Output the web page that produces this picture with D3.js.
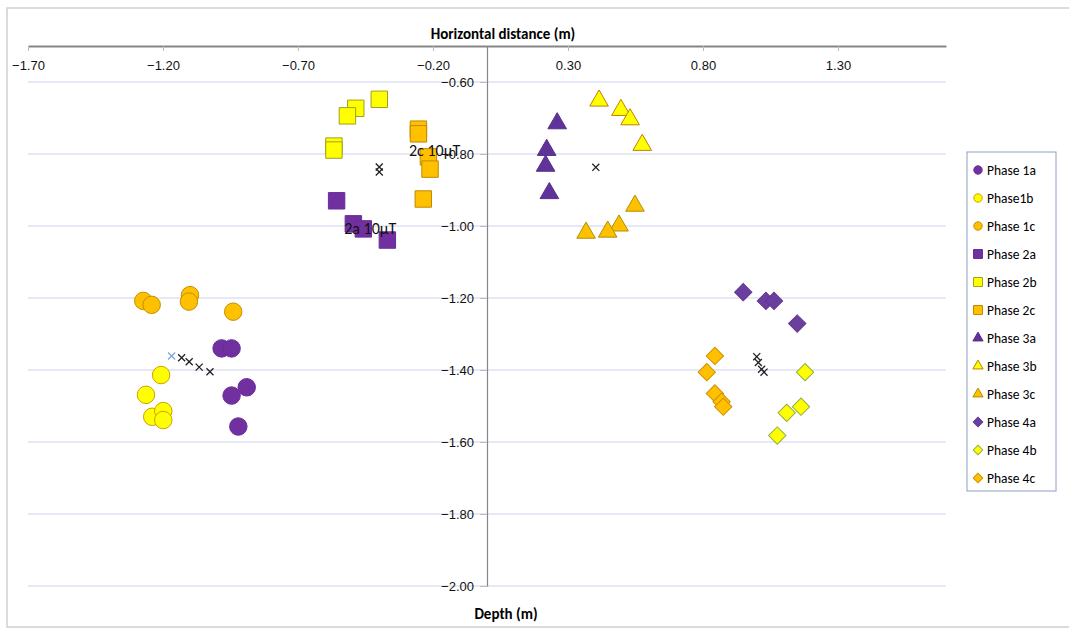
<!DOCTYPE html>
<html>
<head>
<meta charset="utf-8">
<script src="https://cdn.jsdelivr.net/npm/d3@7"></script>
<style>
  body { margin: 0; background: #fff; }
  svg { display: block; font-family: Carlito, "Liberation Sans Narrow", "DejaVu Sans Condensed", "Open Sans", sans-serif; }
  .tick text { fill: #111; font-size: 13px; }
</style>
</head>
<body>
<div id="chart"></div>
<script>
// values, one x/y pair of arrays per series
const phase1aX = [-0.983, -0.946, -0.890, -0.946, -0.921];
const phase1aY = [-1.340, -1.340, -1.448, -1.471, -1.557];
const phase1bX = [-1.207, -1.263, -1.240, -1.199, -1.199];
const phase1bY = [-1.414, -1.469, -1.530, -1.514, -1.539];
const phase1cX = [-1.273, -1.242, -1.100, -1.104, -0.940];
const phase1cY = [-1.208, -1.219, -1.192, -1.210, -1.238];
const phase2aX = [-0.557, -0.495, -0.458, -0.369];
const phase2aY = [-0.930, -0.994, -1.008, -1.039];
const phase2bX = [-0.399, -0.486, -0.517, -0.567, -0.567];
const phase2bY = [-0.648, -0.673, -0.694, -0.778, -0.789];
const phase2cX = [-0.254, -0.254, -0.217, -0.211, -0.236];
const phase2cY = [-0.731, -0.744, -0.808, -0.842, -0.925];
const phase3aX = [0.260, 0.221, 0.217, 0.231];
const phase3aY = [-0.715, -0.789, -0.833, -0.909];
const phase3bX = [0.415, 0.496, 0.530, 0.575];
const phase3bY = [-0.652, -0.678, -0.704, -0.775];
const phase3cX = [0.548, 0.489, 0.447, 0.367];
const phase3cY = [-0.944, -0.999, -1.016, -1.019];
const phase4aX = [0.949, 1.033, 1.063, 1.149];
const phase4aY = [-1.184, -1.208, -1.208, -1.271];
const phase4bX = [1.178, 1.163, 1.110, 1.075];
const phase4bY = [-1.406, -1.502, -1.519, -1.582];
const phase4cX = [0.844, 0.814, 0.844, 0.869, 0.875];
const phase4cY = [-1.361, -1.406, -1.465, -1.488, -1.502];

// centre crosses (no legend entry)
const centreX = [-1.168, -1.131, -1.103, -1.066, -1.026, -0.399, -0.399, 0.403, 0.999, 1.005, 1.017, 1.026];
const centreY = [-1.361, -1.366, -1.377, -1.392, -1.405, -0.836, -0.850, -0.837, -1.363, -1.379, -1.398, -1.406];

// data labels
const labelText = ["2c 10\u00b5T", "2a 10\u00b5T"];
const labelX = [-0.289, -0.529];
const labelY = [-0.789, -1.008];

const xTicks = [-1.70, -1.20, -0.70, -0.20, 0.30, 0.80, 1.30];
const yTicks = [-2.00, -1.80, -1.60, -1.40, -1.20, -1.00, -0.80, -0.60];

const purple = "#7030a0", yellow = "#ffff00", orange = "#ffc000";

const series = [
    {name: "Phase 1a", shape: "circle", fill: purple, stroke: "#6a2c98", xs: phase1aX, ys: phase1aY},
    {name: "Phase1b", shape: "circle", fill: yellow, stroke: "#d0a000", xs: phase1bX, ys: phase1bY},
    {name: "Phase 1c", shape: "circle", fill: orange, stroke: "#c09000", xs: phase1cX, ys: phase1cY},
    {name: "Phase 2a", shape: "square", fill: purple, stroke: "#6a2c98", xs: phase2aX, ys: phase2aY},
    {name: "Phase 2b", shape: "square", fill: yellow, stroke: "#a0a020", xs: phase2bX, ys: phase2bY},
    {name: "Phase 2c", shape: "square", fill: orange, stroke: "#c08800", xs: phase2cX, ys: phase2cY},
    {name: "Phase 3a", shape: "triangle", fill: "#5f3399", stroke: "#55308a", xs: phase3aX, ys: phase3aY},
    {name: "Phase 3b", shape: "triangle", fill: yellow, stroke: "#c08000", xs: phase3bX, ys: phase3bY},
    {name: "Phase 3c", shape: "triangle", fill: orange, stroke: "#b09000", xs: phase3cX, ys: phase3cY},
    {name: "Phase 4a", shape: "diamond", fill: "#6b3f9e", stroke: "#603890", xs: phase4aX, ys: phase4aY},
    {name: "Phase 4b", shape: "diamond", fill: yellow, stroke: "#90b040", xs: phase4bX, ys: phase4bY},
    {name: "Phase 4c", shape: "diamond", fill: orange, stroke: "#d09000", xs: phase4cX, ys: phase4cY}
];

const width = 1069, height = 630;

const svg = d3.select("#chart").append("svg")
    .attr("width", width)
    .attr("height", height);

svg.append("rect")
    .attr("x", 7).attr("y", 8)
    .attr("width", width).attr("height", 619)
    .attr("fill", "#fff")
    .attr("stroke", "#cfcfcf")
    .attr("stroke-width", 1.5);

const x = d3.scaleLinear().domain([-1.7, 1.7]).range([28, 946]);
const y = d3.scaleLinear().domain([-2.0, -0.5]).range([586, 46]);

// symbol path generators, big for the plot and small for the legend
function shapePath(shape, big) {
    if (shape === "circle") return d3.symbol(d3.symbolCircle, big ? 240 : 55)();
    if (shape === "square") return d3.symbol(d3.symbolSquare, big ? 270 : 80)();
    if (shape === "triangle") return d3.symbol(d3.symbolTriangle, big ? 150 : 45)();
    return d3.symbol(d3.symbolSquare, big ? 150 : 45)(); // rotated later -> diamond
}

// gridlines
svg.append("g")
    .selectAll("line")
    .data(yTicks)
    .join("line")
    .attr("x1", x(-1.7))
    .attr("x2", x(1.7))
    .attr("y1", d => y(d))
    .attr("y2", d => y(d))
    .attr("stroke", "#cdd3ea")
    .attr("stroke-width", 1);

// horizontal axis along the top, labels underneath
const xAxis = svg.append("g")
    .attr("transform", `translate(0,${y(-0.5)})`)
    .call(d3.axisBottom(x).tickValues(xTicks).tickFormat(d3.format(".2f"))
        .tickSizeInner(5).tickSizeOuter(0).tickPadding(10));
xAxis.select(".domain").attr("stroke", "#868686").attr("stroke-width", 2);
xAxis.selectAll(".tick line").attr("stroke", "#bbb");

// vertical axis through x = 0
const yAxis = svg.append("g")
    .attr("transform", `translate(${x(0)},0)`)
    .call(d3.axisLeft(y).tickValues(yTicks).tickFormat(d3.format(".2f"))
        .tickSizeInner(7).tickSizeOuter(0).tickPadding(6));
yAxis.select(".domain").attr("stroke", "#868686").attr("stroke-width", 1.2);
yAxis.selectAll(".tick line").attr("stroke", "#bbb");

svg.append("text")
    .attr("x", 503).attr("y", 39)
    .attr("text-anchor", "middle")
    .attr("font-weight", "bold")
    .attr("font-size", 15)
    .attr("fill", "#000")
    .text("Horizontal distance (m)");

svg.append("text")
    .attr("x", 506).attr("y", 619)
    .attr("text-anchor", "middle")
    .attr("font-weight", "bold")
    .attr("font-size", 15)
    .attr("fill", "#000")
    .text("Depth (m)");

// markers
const plot = svg.append("g");
series.forEach(s => {
    const pts = s.xs.map((v, i) => [v, s.ys[i]]);
    plot.append("g")
        .selectAll("path")
        .data(pts)
        .join("path")
        .attr("d", shapePath(s.shape, true))
        .attr("transform", d => `translate(${x(d[0])},${y(d[1])})` + (s.shape === "diamond" ? " rotate(45)" : ""))
        .attr("fill", s.fill)
        .attr("stroke", s.stroke)
        .attr("stroke-width", 1);
});

// centre crosses
const centres = centreX.map((v, i) => [v, centreY[i]]);
plot.append("g")
    .selectAll("path")
    .data(centres)
    .join("path")
    .attr("d", d3.symbol(d3.symbolX, 34)())
    .attr("transform", d => `translate(${x(d[0])},${y(d[1])})`)
    .attr("fill", "none")
    .attr("stroke", (d, i) => i === 0 ? "#7fa6d6" : "#222")
    .attr("stroke-width", 1.3);

// data labels
plot.append("g")
    .selectAll("text")
    .data(labelText)
    .join("text")
    .attr("x", (d, i) => x(labelX[i]))
    .attr("y", (d, i) => y(labelY[i]))
    .attr("dy", "0.35em")
    .attr("font-size", 16)
    .attr("fill", "#111")
    .text(d => d);

// legend
const legend = svg.append("g").attr("transform", "translate(967,152)");
legend.append("rect")
    .attr("width", 89).attr("height", 339)
    .attr("fill", "#fff")
    .attr("stroke", "#8ea0c0")
    .attr("stroke-width", 1);

const item = legend.selectAll(".item")
    .data(series)
    .join("g")
    .attr("class", "item")
    .attr("transform", (d, i) => `translate(11,${18 + i * 28})`);

item.append("path")
    .attr("d", d => shapePath(d.shape, false))
    .attr("transform", d => d.shape === "diamond" ? "rotate(45)" : null)
    .attr("fill", d => d.fill)
    .attr("stroke", d => d.stroke)
    .attr("stroke-width", 1);

item.append("text")
    .attr("x", 9)
    .attr("dy", "0.35em")
    .attr("font-size", 13.5)
    .attr("fill", "#000")
    .text(d => d.name);
</script>
</body>
</html>
